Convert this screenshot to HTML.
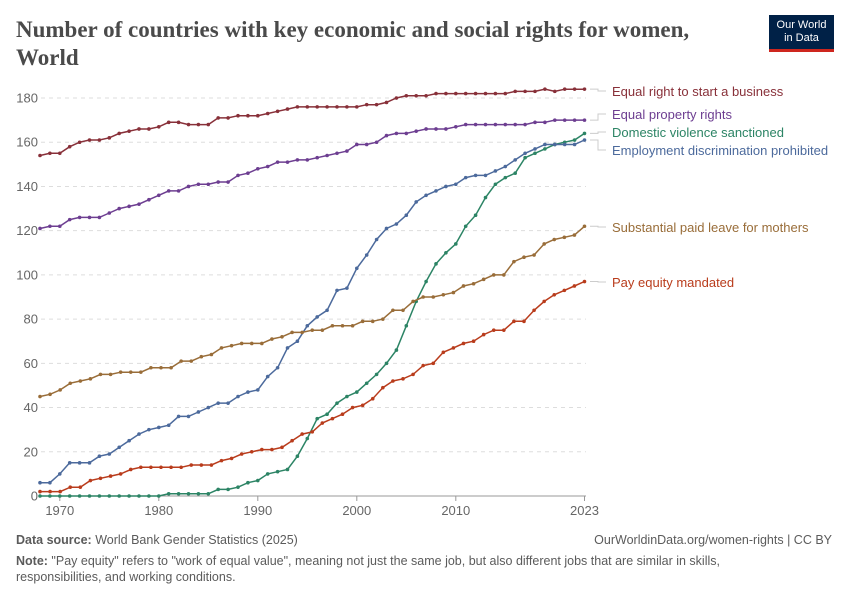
<!DOCTYPE html>
<html><head><meta charset="utf-8"><style>
body{margin:0;width:850px;height:600px;background:#fff;font-family:"Liberation Sans",sans-serif;overflow:hidden;position:relative}
.t{position:absolute;left:16px;top:16px;font-family:"Liberation Serif",serif;font-weight:bold;font-size:23px;line-height:28px;color:#4a4a4a;width:720px}
.logo{position:absolute;left:769px;top:15px;width:65px;height:37px;background:#002147;border-bottom:3px solid #ce261e;color:#fff;font-size:11px;line-height:13px;text-align:center;padding-top:4px;box-sizing:border-box}
.f{position:absolute;font-size:12.5px;color:#5b5b5b}
</style></head><body>
<div class="t">Number of countries with key economic and social rights for women, World</div>
<div class="logo">Our World<br>in Data</div>
<svg width="850" height="600" style="position:absolute;left:0;top:0" id="s" font-family="Liberation Sans, sans-serif"></svg>
<div class="f" style="left:16px;top:533px"><b>Data source:</b> World Bank Gender Statistics (2025)</div>
<div class="f" style="right:18px;top:533px">OurWorldinData.org/women-rights | CC BY</div>
<div class="f" style="left:16px;top:553px;width:735px;line-height:16px"><b>Note:</b> "Pay equity" refers to "work of equal value", meaning not just the same job, but also different jobs that are similar in skills, responsibilities, and working conditions.</div>
<script>
var s=document.getElementById('s'),h='';
function X(y){return 40+(y-1968)*9.9}function Y(v){return 496-v*2.211}
for(var v=0;v<=180;v+=20){var y=Y(v);if(v>0)h+='<line x1="41" x2="586" y1="'+y+'" y2="'+y+'" stroke="#ddd" stroke-dasharray="4,4"/>';h+='<text x="38" y="'+(y+4.5)+'" text-anchor="end" font-size="13" fill="#666">'+v+'</text>'}
h+='<line x1="41" x2="586" y1="496" y2="496" stroke="#999"/>';
[1970,1980,1990,2000,2010,2023].forEach(function(y){h+='<line x1="'+X(y)+'" x2="'+X(y)+'" y1="496" y2="501" stroke="#999"/><text x="'+X(y)+'" y="515" text-anchor="middle" font-size="13" fill="#666">'+y+'</text>'});
var S=[
['#883039',[154,155,155,158,160,161,161,162,164,165,166,166,167,169,169,168,168,168,171,171,172,172,172,173,174,175,176,176,176,176,176,176,176,177,177,178,180,181,181,181,182,182,182,182,182,182,182,182,183,183,183,184,183,184,184,184],'Equal right to start a business',96],
['#6d3e91',[121,122,122,125,126,126,126,128,130,131,132,134,136,138,138,140,141,141,142,142,145,146,148,149,151,151,152,152,153,154,155,156,159,159,160,163,164,164,165,166,166,166,167,168,168,168,168,168,168,168,169,169,170,170,170,170],'Equal property rights',119],
['#2c8465',[0,0,0,0,0,0,0,0,0,0,0,0,0,1,1,1,1,1,3,3,4,6,7,10,11,12,18,26,35,37,42,45,47,51,55,60,66,77,88,97,105,110,114,122,127,135,141,144,146,153,155,157,159,160,161,164],'Domestic violence sanctioned',137],
['#4c6a9c',[6,6,10,15,15,15,18,19,22,25,28,30,31,32,36,36,38,40,42,42,45,47,48,54,58,67,70,77,81,84,93,94,103,109,116,121,123,127,133,136,138,140,141,144,145,145,147,149,152,155,157,159,159,159,159,161],'Employment discrimination prohibited',155],
['#996d39',[45,46,48,51,52,53,55,55,56,56,56,58,58,58,61,61,63,64,67,68,69,69,69,71,72,74,74,75,75,77,77,77,79,79,80,84,84,88,90,90,91,92,95,96,98,100,100,106,108,109,114,116,117,118,122],'Substantial paid leave for mothers',232],
['#b93c1c',[2,2,2,4,4,7,8,9,10,12,13,13,13,13,13,14,14,14,16,17,19,20,21,21,22,25,28,29,33,35,37,40,41,44,49,52,53,55,59,60,65,67,69,70,73,75,75,79,79,84,88,91,93,95,97],'Pay equity mandated',287]];
S.forEach(function(q){var d=q[1],n=d.length,p=[],c='';d.forEach(function(v,i){var x=X(1968+i*55/(n-1)),y=Y(v);p.push(x.toFixed(1)+','+y.toFixed(1));c+='<circle cx="'+x+'" cy="'+y+'" r="1.8" fill="'+q[0]+'"/>'});
h+='<polyline points="'+p.join(' ')+'" fill="none" stroke="'+q[0]+'" stroke-width="1.5"/>'+c;
var ly=Y(d[n-1]);h+='<polyline points="590,'+ly+' 598,'+ly+' 598,'+(q[3]-5)+' 606,'+(q[3]-5)+'" fill="none" stroke="#ccc"/>';
h+='<text x="612" y="'+q[3]+'" font-size="13" fill="'+q[0]+'">'+q[2]+'</text>'});
s.innerHTML=h;
</script>
</body></html>
